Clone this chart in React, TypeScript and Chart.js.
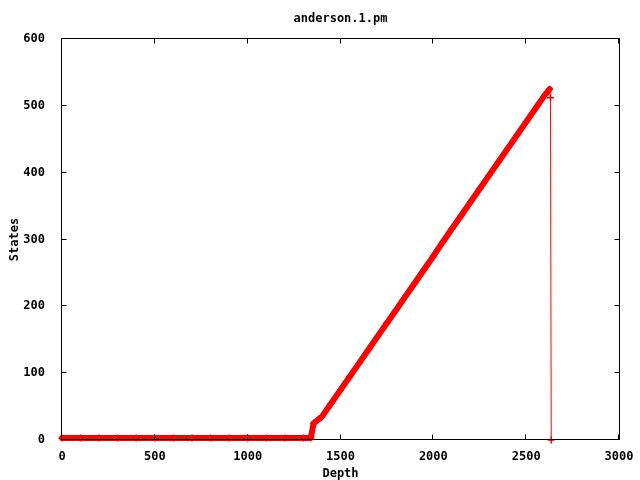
import React, { useEffect, useRef } from "react";
import { Chart, registerables } from "chart.js";

Chart.register(...registerables);

const TITLE = "anderson.1.pm";
const X_LABEL = "Depth";
const Y_LABEL = "States";

const X_TICKS = [0, 500, 1000, 1500, 2000, 2500, 3000];
const Y_TICKS = [0, 100, 200, 300, 400, 500, 600];

const depths = [
  0, 100, 200, 300, 400, 500, 600, 700, 800, 900, 1000, 1100, 1200, 1300,
  1340, 1355,
  1400, 1450, 1500, 1550, 1600, 1650, 1700, 1750, 1800, 1850, 1900, 1950,
  2000, 2050, 2100, 2150, 2200, 2250, 2300, 2350, 2400, 2450, 2500, 2550, 2600,
  2626, 2631, 2635,
];

const states = [
  3, 3, 3, 3, 3, 3, 3, 3, 3, 3, 3, 3, 3, 3,
  3, 25,
  35, 55, 75, 95, 115, 135, 155, 175, 195, 215, 235, 255,
  275, 296, 316, 336, 356, 376, 396, 416, 436, 456, 476, 496, 516,
  525, 512, 0,
];

const PEAK_INDEX = 41;
const RED = "#ff0000";
const FONT_FAMILY = "'DejaVu Sans Mono', monospace";

const framePlugin = {
  id: "gnuFrame",
  afterDatasetsDraw(chart: any) {
    const { ctx, chartArea: a, scales } = chart;
    const L = Math.round(a.left) - 0.5;
    const R = Math.round(a.right) + 0.5;
    const T = Math.round(a.top) - 0.5;
    const B = Math.round(a.bottom) - 0.5;
    ctx.save();
    ctx.strokeStyle = "#000";
    ctx.lineWidth = 1;
    ctx.beginPath();
    ctx.rect(L, T, R - L, B - T);
    const tl = 5;
    for (const v of Y_TICKS) {
      const y = Math.round(scales.y.getPixelForValue(v)) - 0.5;
      ctx.moveTo(L, y);
      ctx.lineTo(L + tl, y);
      ctx.moveTo(R, y);
      ctx.lineTo(R - tl, y);
    }
    for (const v of X_TICKS) {
      const x = Math.round(scales.x.getPixelForValue(v)) - 0.5;
      ctx.moveTo(x, B);
      ctx.lineTo(x, B - tl);
      ctx.moveTo(x, T);
      ctx.lineTo(x, T + tl);
    }
    ctx.stroke();
    ctx.fillStyle = "#000";
    ctx.font = `bold 12px ${FONT_FAMILY}`;
    ctx.textAlign = "center";
    ctx.textBaseline = "middle";
    ctx.fillText(TITLE, (a.left + a.right) / 2, 19);
    ctx.restore();
  },
};

export default function App() {
  const ref = useRef<HTMLCanvasElement | null>(null);

  useEffect(() => {
    if (!ref.current) return;
    const font = { family: FONT_FAMILY, size: 12, weight: "bold" as const };
    const chart = new Chart(ref.current, {
      type: "line",
      data: {
        datasets: [
          {
            data: depths.map((d, i) => ({ x: d, y: states[i] })),
            borderColor: RED,
            backgroundColor: RED,
            borderWidth: 6,
            borderJoinStyle: "round",
            borderCapStyle: "round",
            fill: false,
            tension: 0,
            pointStyle: "cross",
            pointRadius: 3.5,
            pointBorderWidth: 1.5,
            pointBorderColor: RED,
            clip: 8,
            segment: {
              borderWidth: (ctx: any) => (ctx.p0DataIndex >= PEAK_INDEX ? 1 : 6),
            },
          } as any,
        ],
      },
      options: {
        animation: false,
        responsive: false,
        layout: { padding: { left: 0, right: 21, top: 39, bottom: 0 } },
        plugins: {
          legend: { display: false },
          title: { display: false },
          tooltip: { enabled: false },
        },
        scales: {
          x: {
            type: "linear",
            min: 0,
            max: 3000,
            afterBuildTicks: (s: any) => {
              s.ticks = X_TICKS.map((v) => ({ value: v }));
            },
            ticks: {
              color: "#000",
              font,
              padding: 2,
              maxRotation: 0,
              callback: (v: any) => String(v),
            },
            grid: { display: false },
            border: { display: false },
            title: {
              display: true,
              text: X_LABEL,
              color: "#000",
              font,
              padding: { top: 0, bottom: -1 },
            },
            afterFit: (s: any) => {
              s.height = 40;
              s.paddingLeft = 0;
              s.paddingRight = 0;
            },
          },
          y: {
            type: "linear",
            min: 0,
            max: 600,
            afterBuildTicks: (s: any) => {
              s.ticks = Y_TICKS.map((v) => ({ value: v }));
            },
            ticks: { color: "#000", font, padding: 9, callback: (v: any) => String(v) },
            grid: { display: false },
            border: { display: false },
            title: {
              display: true,
              text: Y_LABEL,
              color: "#000",
              font,
              padding: { top: 8, bottom: 0 },
            },
            afterFit: (s: any) => {
              s.width = 62;
              s.paddingTop = 0;
              s.paddingBottom = 0;
            },
          },
        },
      },
      plugins: [framePlugin],
    } as any);
    return () => chart.destroy();
  }, []);

  return (
    <div style={{ position: "absolute", left: 0, top: 0, width: 640, height: 480, background: "#fff" }}>
      <canvas ref={ref} width={640} height={480} />
    </div>
  );
}
